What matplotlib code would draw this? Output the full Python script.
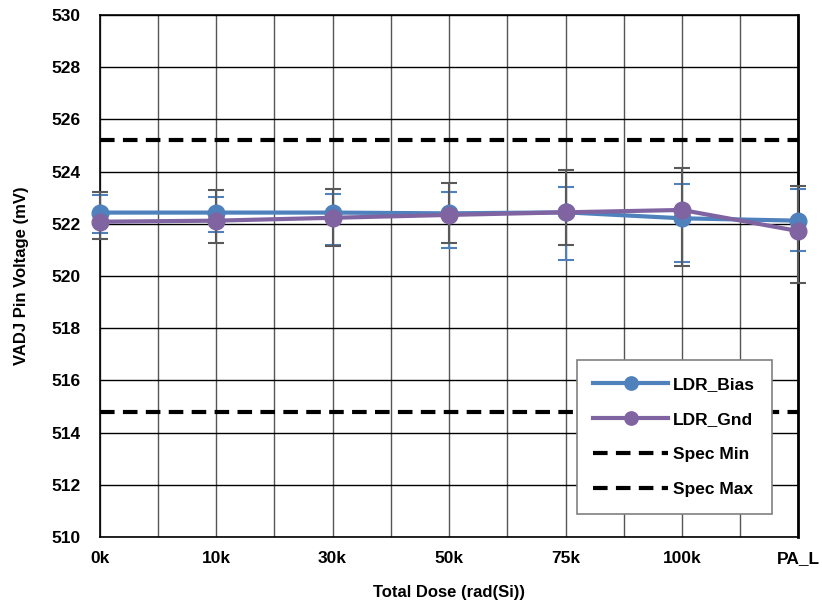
import numpy as np
import matplotlib.pyplot as plt

plt.rcParams['font.family'] = ['Liberation Sans', 'DejaVu Sans']
plt.rcParams['font.weight'] = 'bold'

doses = ['0k', '10k', '30k', '50k', '75k', '100k', 'PA_L']

# mean values (mV)
bias = [522.43, 522.43, 522.43, 522.40, 522.44, 522.21, 522.12]
gnd = [522.08, 522.12, 522.23, 522.34, 522.44, 522.53, 521.72]

# error bar ends (mV)
bias_hi = [523.10, 523.02, 523.14, 523.22, 523.42, 523.52, 523.32]
bias_lo = [521.64, 521.70, 521.20, 521.08, 520.61, 520.55, 520.96]
gnd_hi = [523.23, 523.30, 523.32, 523.58, 524.06, 524.13, 523.46]
gnd_lo = [521.41, 521.25, 521.16, 521.25, 521.19, 520.40, 519.72]

spec_min = 514.8
spec_max = 525.2

x = np.arange(len(doses))
bias = np.array(bias)
gnd = np.array(gnd)

fig = plt.figure(figsize=(8.22, 6.07), dpi=100)
ax = fig.add_axes([0.1212, 0.1153, 0.8502, 0.86])

blue = '#4F81BD'
purple = '#8064A2'

# error bars (caps), drawn behind the lines
eb1 = ax.errorbar(x, bias, yerr=[bias - np.array(bias_lo), np.array(bias_hi) - bias],
                  fmt='none', ecolor=blue, elinewidth=1.5, capsize=6, capthick=1.5, zorder=3)
eb2 = ax.errorbar(x, gnd, yerr=[gnd - np.array(gnd_lo), np.array(gnd_hi) - gnd],
                  fmt='none', ecolor='#595959', elinewidth=1.5, capsize=6, capthick=1.5, zorder=3)
for eb in (eb1, eb2):
    for art in eb.lines[1] + eb.lines[2]:
        art.set_clip_on(False)

ax.plot(x, bias, '-o', color=blue, lw=3, markersize=12, label='LDR_Bias', zorder=4, clip_on=False)
ax.plot(x, gnd, '-o', color=purple, lw=3, markersize=12, label='LDR_Gnd', zorder=5, clip_on=False)

ax.axhline(spec_min, color='black', lw=3, dashes=(3.5, 2), label='Spec Min', zorder=2)
ax.axhline(spec_max, color='black', lw=3, dashes=(3.5, 2), label='Spec Max', zorder=2)

ax.set_xlim(0, len(doses) - 1)
ax.set_ylim(510, 530)
ax.set_yticks(np.arange(510, 531, 2))
ax.set_xticks(x)
ax.set_xticklabels(doses)
ax.set_xticks(np.arange(0.5, len(doses) - 1, 1), minor=True)
ax.tick_params(axis='both', which='both', length=0, labelsize=12.5, pad=10)
ax.tick_params(axis='y', pad=14)

ax.grid(True, axis='y', color='black', lw=1, zorder=0)
ax.grid(True, axis='x', which='both', color='#555555', lw=1, zorder=0)
ax.set_axisbelow(True)

for s in ['left', 'bottom', 'top']:
    ax.spines[s].set_linewidth(1.2)
ax.spines['right'].set_linewidth(2)

ax.set_xlabel('Total Dose (rad(Si))', fontsize=12, fontweight='bold', labelpad=14)
ax.set_ylabel('VADJ Pin Voltage (mV)', fontsize=12, fontweight='bold', labelpad=16)

leg = ax.legend(loc='upper left', bbox_to_anchor=(0.683, 0.339), borderaxespad=0,
                fancybox=False, framealpha=1, edgecolor='#808080', fontsize=12.5,
                handlelength=4.3, labelspacing=1.15, borderpad=0.95, handletextpad=0.3,
                markerscale=0.8)
leg.get_frame().set_linewidth(1.2)

fig.savefig('out.png', dpi=100)
